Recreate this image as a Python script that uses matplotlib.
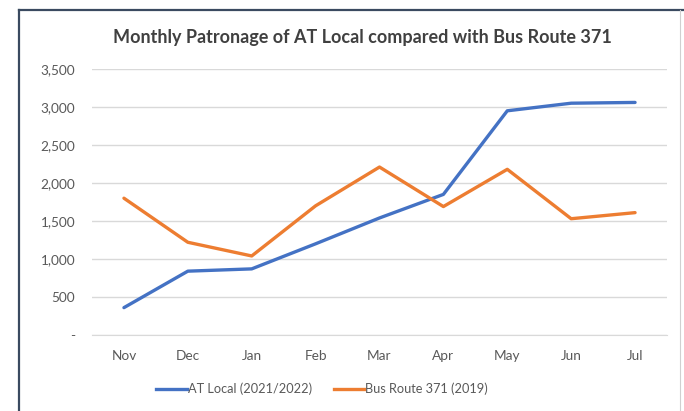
import matplotlib
matplotlib.use("Agg")
import matplotlib.pyplot as plt
from matplotlib.lines import Line2D
from matplotlib.ticker import FuncFormatter

months = ["Nov", "Dec", "Jan", "Feb", "Mar", "Apr", "May", "Jun", "Jul"]
at_local = [360, 840, 870, 1200, 1540, 1850, 2950, 3050, 3060]
bus_371 = [1800, 1220, 1040, 1700, 2210, 1690, 2180, 1530, 1610]
series_names = ["AT Local (2021/2022)", "Bus Route 371 (2019)"]
title = "Monthly Patronage of AT Local compared with Bus Route 371"

W, H = 684, 411
fig = plt.figure(figsize=(W / 100, H / 100), dpi=100)
fig.patch.set_facecolor("white")
plt.rcParams["font.family"] = ["Lato", "DejaVu Sans"]

# frame border
fig.add_artist(Line2D([19 / W, 19 / W], [0, 1 - 10 / H], color="#3a4a60", lw=1.6, transform=fig.transFigure))
fig.add_artist(Line2D([19 / W, 1], [1 - 10 / H, 1 - 10 / H], color="#3a4a60", lw=1.6, transform=fig.transFigure))
fig.add_artist(Line2D([680 / W, 680 / W], [0, 1 - 10 / H], color="#d0d0d0", lw=0.8, transform=fig.transFigure))

left, right, top, bottom = 92, 667, 69, 335
ax = fig.add_axes([left / W, 1 - bottom / H, (right - left) / W, (bottom - top) / H])

x = list(range(len(months)))
blue = "#4472C4"
orange = "#ED7D31"
ax.plot(x, at_local, color=blue, lw=2.4, solid_capstyle="round", solid_joinstyle="round", zorder=3)
ax.plot(x, bus_371, color=orange, lw=2.4, solid_capstyle="round", solid_joinstyle="round", zorder=3)

ax.set_xlim(-0.5, len(months) - 0.5)
ax.set_ylim(0, 3500)
ax.set_yticks(range(0, 3501, 500))
ax.yaxis.set_major_formatter(FuncFormatter(lambda v, p: "-" if v == 0 else f"{int(v):,}"))
ax.set_xticks(x)
ax.set_xticklabels(months)
ax.grid(axis="y", color="#d9d9d9", lw=1)
ax.set_axisbelow(True)
for s in ["top", "right", "left"]:
    ax.spines[s].set_visible(False)
ax.spines["bottom"].set_color("#d9d9d9")
ax.tick_params(axis="both", length=0, colors="#595959", labelsize=9.8)
ax.tick_params(axis="x", pad=11)
ax.tick_params(axis="y", pad=12)

fig.text(362 / W, 1 - 37 / H, title, ha="center", va="center", fontsize=13,
         fontweight="bold", color="#404040")

handles = [Line2D([], [], color=blue, lw=2.4), Line2D([], [], color=orange, lw=2.4)]
fig.legend(handles, series_names, loc="center", bbox_to_anchor=(322 / W, 1 - 389 / H),
           ncol=2, frameon=False, fontsize=9.2, labelcolor="#595959",
           handlelength=2.4, handletextpad=0.05, columnspacing=1.7)

fig.savefig("out.png", dpi=100)
